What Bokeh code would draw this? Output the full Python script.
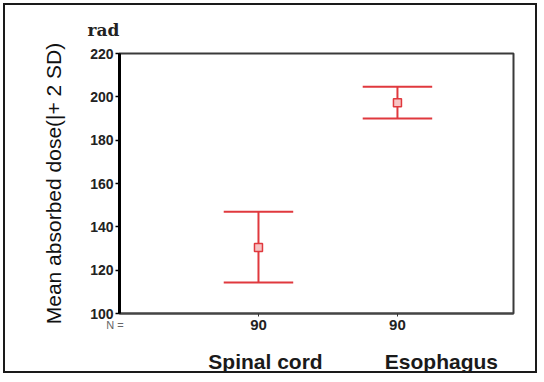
from bokeh.plotting import figure
from bokeh.models import Range1d, FixedTicker, LinearAxis
from bokeh.embed import file_html
from bokeh.resources import INLINE

# ---- data ----
categories = ["Spinal cord", "Esophagus"]
positions = [1, 2]
means = [130.5, 197.3]
lower = [114.3, 190.0]
upper = [147.0, 204.6]
n_values = [90, 90]
n_caption = "N =\u00a0\u00a0\u00a0"
y_ticks = [100, 120, 140, 160, 180, 200, 220]

RED = "#e0393e"

W, H = 534, 370
FL, FT, FR, FB = 114, 48, 26, 61
X0, X1 = 0.0, 2.835
Y0, Y1 = 100, 220
px_per_x = (W - FL - FR) / (X1 - X0)

p = figure(width=W, height=H, output_backend="svg", toolbar_location=None,
           x_range=Range1d(X0, X1), y_range=Range1d(Y0, Y1),
           min_border_left=FL, min_border_top=FT, min_border_right=FR,
           min_border_bottom=FB)
p.styles = {"margin": "3px", "border": "2px solid #1a1a1a"}
p.grid.visible = False
p.background_fill_color = "white"
p.border_fill_color = "white"
p.outline_line_color = "#3a3a3a"
p.outline_line_width = 2

# "rad" unit text as title
p.title.text = "rad"
p.title.align = "left"
p.title.offset = -32
p.title.standoff = 24
p.title.vertical_align = "top"
p.title.text_font = "DejaVu Serif"
p.title.text_font_style = "bold"
p.title.text_font_size = "17px"
p.title.text_color = "#222222"

# y axis
ya = p.yaxis[0]
ya.ticker = FixedTicker(ticks=y_ticks)
ya.axis_line_color = "black"
ya.axis_line_width = 3
ya.major_tick_line_color = "black"
ya.major_tick_line_width = 1.5
ya.major_tick_out = 4
ya.major_tick_in = 0
ya.minor_tick_line_color = None
ya.major_label_text_font = "Liberation Sans"
ya.major_label_text_font_style = "bold"
ya.major_label_text_font_size = "14px"
ya.major_label_text_color = "#222222"
ya.major_label_standoff = 2
ya.axis_label = "Mean absorbed dose(|+ 2 SD)"
ya.axis_label_text_font = "Liberation Sans"
ya.axis_label_text_font_style = "normal"
ya.axis_label_text_font_size = "21px"
ya.axis_label_text_color = "#111111"
ya.axis_label_standoff = 22

# x axis with N values
xa = p.xaxis[0]
xa.ticker = FixedTicker(ticks=positions)
xa.major_label_overrides = {pos: str(n) for pos, n in zip(positions, n_values)}
xa.axis_line_color = "#444444"
xa.axis_line_width = 2
xa.major_tick_line_color = "#333333"
xa.major_tick_out = 3
xa.major_tick_in = 0
xa.minor_tick_line_color = None
xa.major_label_text_font = "Liberation Sans"
xa.major_label_text_font_style = "bold"
xa.major_label_text_font_size = "15px"
xa.major_label_text_color = "#222222"
xa.major_label_standoff = 3

# "N =" caption axis, pulled up to the N-values row
n_tick = X0
xn = LinearAxis(ticker=FixedTicker(ticks=[n_tick]), major_label_overrides={n_tick: n_caption})
xn.axis_line_color = None
xn.major_tick_line_color = None
xn.major_tick_out = 0
xn.minor_tick_line_color = None
xn.major_label_text_font = "Liberation Sans"
xn.major_label_text_font_size = "11px"
xn.major_label_text_color = "#666666"
xn.major_label_standoff = -14
p.add_layout(xn, "below")

# third x axis with category names
name_off_px = [7, 44]
name_ticks = [pos + off / px_per_x for pos, off in zip(positions, name_off_px)]
xa2 = LinearAxis(ticker=FixedTicker(ticks=name_ticks),
                 major_label_overrides={t: c for t, c in zip(name_ticks, categories)})
xa2.axis_line_color = None
xa2.major_tick_line_color = None
xa2.major_tick_out = 0
xa2.minor_tick_line_color = None
xa2.major_label_text_font = "Liberation Sans"
xa2.major_label_text_font_style = "bold"
xa2.major_label_text_font_size = "21px"
xa2.major_label_text_color = "#1a1a1a"
xa2.major_label_standoff = 16
p.add_layout(xa2, "below")

# error bars
caps = 0.25
p.segment(x0=positions, y0=lower, x1=positions, y1=upper, line_color=RED, line_width=2)
p.segment(x0=[x - caps for x in positions], y0=upper, x1=[x + caps for x in positions], y1=upper,
          line_color=RED, line_width=2)
p.segment(x0=[x - caps for x in positions], y0=lower, x1=[x + caps for x in positions], y1=lower,
          line_color=RED, line_width=2)
p.scatter(x=positions, y=means, marker="square", size=8, line_color=RED, line_width=1.5,
          fill_color="#f7c4c4")

open("out.html", "w").write(file_html(p, INLINE))
